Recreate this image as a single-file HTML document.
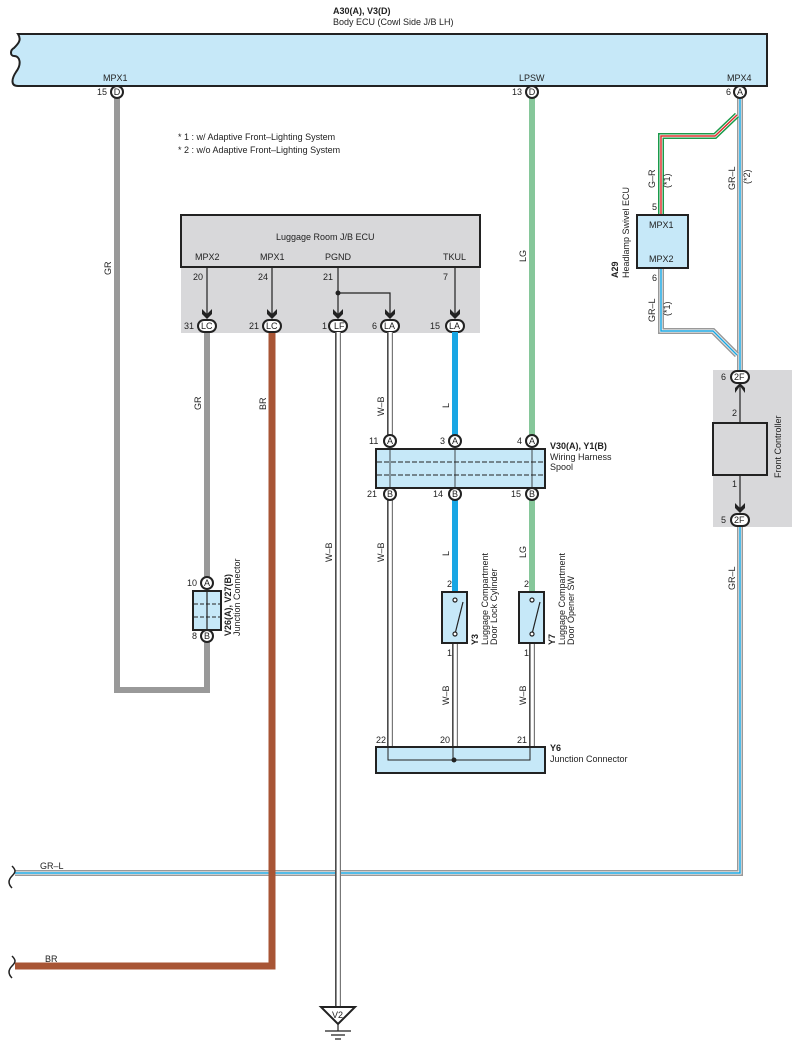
<!DOCTYPE html>
<html><head><meta charset="utf-8"><style>
body{margin:0;background:#fff}
svg{display:block;font-family:"Liberation Sans",sans-serif}
text{font-size:9px;fill:#222}
</style></head><body>
<svg width="801" height="1060" viewBox="0 0 801 1060" xmlns="http://www.w3.org/2000/svg">
<defs>
<g id="arr"><path d="M-5,-5 L0,0 L5,-5 L5,0 L0,5 L-5,0Z" fill="#222"/></g>
</defs>
<!-- Body ECU -->
<text x="333" y="14" font-weight="bold">A30(A), V3(D)</text>
<text x="333" y="25">Body ECU (Cowl Side J/B LH)</text>
<path d="M18,34 L767,34 L767,86 L18,86 C10,86 12,78 16,72 C22,64 20,56 14,56 C10,56 10,50 14,48 C18,44 22,40 18,34Z" fill="#c6e8f8" stroke="#222" stroke-width="2"/>
<text x="103" y="81">MPX1</text>
<text x="519" y="81">LPSW</text>
<text x="727" y="81">MPX4</text>

<!-- notes -->
<text x="178" y="140" font-size="8.5">* 1 : w/ Adaptive Front–Lighting System</text>
<text x="178" y="153" font-size="8.5">* 2 : w/o Adaptive Front–Lighting System</text>

<!-- GR wire -->
<path d="M117,98 L117,690 L207,690 L207,642" fill="none" stroke="#999" stroke-width="6"/>
<path d="M207,577 L207,332" fill="none" stroke="#999" stroke-width="6"/>
<!-- LG wire -->
<path d="M532,98 L532,435" stroke="#86c79a" stroke-width="6"/>
<path d="M532,500 L532,592" stroke="#86c79a" stroke-width="6"/>
<!-- GR-L main -->
<g fill="none">
<path d="M740,98 L740,371 M740,526 L740,873 L15,873" stroke="#999" stroke-width="6"/>
<path d="M740,98 L740,371 M740,526 L740,873 L15,873" stroke="#fff" stroke-width="3"/>
<path d="M740,98 L740,371 M740,526 L740,873 L15,873" stroke="#1aa5e0" stroke-width="1.5"/>
<!-- G-R branch -->
<path d="M737,115 L715,136 L661,136 L661,214" stroke="#1a9a4a" stroke-width="6"/>
<path d="M737,115 L715,136 L661,136 L661,214" stroke="#fff" stroke-width="3"/>
<path d="M737,115 L715,136 L661,136 L661,214" stroke="#e03030" stroke-width="1.5"/>
<!-- GR-L from A29 -->
<path d="M661,268 L661,331 L713,331 L737,355" stroke="#999" stroke-width="6"/>
<path d="M661,268 L661,331 L713,331 L737,355" stroke="#fff" stroke-width="3"/>
<path d="M661,268 L661,331 L713,331 L737,355" stroke="#1aa5e0" stroke-width="1.5"/>
</g>
<!-- BR -->
<path d="M272,332 L272,966 L15,966" fill="none" stroke="#a85535" stroke-width="7"/>
<!-- body connectors -->
<g stroke="#222" stroke-width="2" fill="#fff">
<circle cx="117" cy="92" r="6"/><circle cx="532" cy="92" r="6"/><circle cx="740" cy="92" r="6"/>
</g>
<g text-anchor="middle" font-size="8"><text x="117" y="95" font-size="8">D</text><text x="532" y="95" font-size="8">D</text><text x="740" y="95" font-size="8">A</text></g>
<text x="97" y="95">15</text><text x="512" y="95">13</text><text x="726" y="95">6</text>

<!-- A29 -->
<rect x="637" y="215" width="51" height="53" fill="#c6e8f8" stroke="#222" stroke-width="2"/>
<text x="649" y="228">MPX1</text><text x="649" y="262">MPX2</text>
<text x="652" y="210">5</text><text x="652" y="281">6</text>
<text transform="translate(618,278) rotate(-90)" font-weight="bold">A29</text>
<text transform="translate(629,278) rotate(-90)">Headlamp Swivel ECU</text>
<text transform="translate(655,188) rotate(-90)">G–R</text>
<text transform="translate(670,188) rotate(-90)">(*1)</text>
<text transform="translate(735,190) rotate(-90)">GR–L</text>
<text transform="translate(750,184) rotate(-90)">(*2)</text>
<text transform="translate(655,322) rotate(-90)">GR–L</text>
<text transform="translate(670,316) rotate(-90)">(*1)</text>

<!-- Front controller -->
<rect x="713" y="370" width="79" height="157" fill="#d8d8da"/>
<rect x="713" y="423" width="54" height="52" fill="#d8d8da" stroke="#222" stroke-width="2"/>
<path d="M740,383 L740,423 M740,475 L740,512" stroke="#222" stroke-width="1.2"/>
<path d="M735,393 L740,386 L745,393 L745,388 L740,383 L735,388Z" fill="#222"/>
<use href="#arr" x="740" y="508"/>
<g stroke="#222" stroke-width="2" fill="#fff"><rect x="731" y="371" width="18" height="12" rx="6"/><rect x="731" y="514" width="18" height="12" rx="6"/></g>
<text x="734" y="380">2F</text><text x="734" y="523">2F</text>
<text x="721" y="380">6</text><text x="721" y="523">5</text>
<text x="732" y="416">2</text><text x="732" y="487">1</text>
<text transform="translate(781,478) rotate(-90)">Front Controller</text>

<!-- Luggage ECU -->
<rect x="181" y="267" width="299" height="66" fill="#d8d8da"/>
<rect x="181" y="215" width="299" height="52" fill="#d8d8da" stroke="#222" stroke-width="2"/>
<text x="276" y="240">Luggage Room J/B ECU</text>
<text x="195" y="260">MPX2</text><text x="260" y="260">MPX1</text><text x="325" y="260">PGND</text><text x="443" y="260">TKUL</text>
<text x="193" y="280">20</text><text x="258" y="280">24</text><text x="323" y="280">21</text><text x="443" y="280">7</text>
<g stroke="#222" stroke-width="1.2" fill="none">
<path d="M207,267 L207,315 M272,267 L272,315 M338,267 L338,315 M455,267 L455,315 M338,293 L390,293 L390,315"/>
</g>
<circle cx="338" cy="293" r="2.5" fill="#222"/>
<use href="#arr" x="207" y="314"/><use href="#arr" x="272" y="314"/><use href="#arr" x="338" y="314"/><use href="#arr" x="390" y="314"/><use href="#arr" x="455" y="314"/>
<g stroke="#222" stroke-width="2" fill="#fff">
<rect x="198" y="320" width="18" height="12" rx="6"/><rect x="263" y="320" width="18" height="12" rx="6"/><rect x="329" y="320" width="18" height="12" rx="6"/><rect x="381" y="320" width="18" height="12" rx="6"/><rect x="446" y="320" width="18" height="12" rx="6"/>
</g>
<text x="201" y="329">LC</text><text x="266" y="329">LC</text><text x="334" y="329">LF</text><text x="384" y="329">LA</text><text x="449" y="329">LA</text>
<text x="184" y="329">31</text><text x="249" y="329">21</text><text x="322" y="329">1</text><text x="372" y="329">6</text><text x="430" y="329">15</text>

<!-- W-B double lines -->
<g fill="none">
<path d="M338,332 L338,1008 M390,332 L390,435 M390,500 L390,748 M455,643 L455,748 M532,643 L532,748" stroke="#777" stroke-width="6"/>
<path d="M338,332 L338,1008 M390,332 L390,435 M390,500 L390,748 M455,643 L455,748 M532,643 L532,748" stroke="#fff" stroke-width="3.6"/>
<path d="M336,332 L336,1008 M388,332 L388,435 M388,500 L388,748 M453,643 L453,748 M530,643 L530,748" stroke="#222" stroke-width="1"/>
</g>
<!-- L blue -->
<path d="M455,332 L455,435 M455,500 L455,592" stroke="#18a6e4" stroke-width="6"/>

<!-- spool -->
<rect x="376" y="449" width="169" height="39" fill="#c6e8f8" stroke="#222" stroke-width="2"/>
<path d="M377,462 L544,462 M377,475 L544,475" stroke="#222" stroke-width="1" stroke-dasharray="5,2"/>
<path d="M390,449 L390,488 M455,449 L455,488 M532,449 L532,488" stroke="#222" stroke-width="0.8"/>
<g stroke="#222" stroke-width="2" fill="#fff">
<circle cx="390" cy="441" r="6"/><circle cx="455" cy="441" r="6"/><circle cx="532" cy="441" r="6"/>
<circle cx="390" cy="494" r="6"/><circle cx="455" cy="494" r="6"/><circle cx="532" cy="494" r="6"/>
</g>
<g text-anchor="middle" font-size="8"><text x="390" y="444">A</text><text x="455" y="444">A</text><text x="532" y="444">A</text><text x="390" y="497">B</text><text x="455" y="497">B</text><text x="532" y="497">B</text></g>
<text x="369" y="444">11</text><text x="440" y="444">3</text><text x="517" y="444">4</text>
<text x="367" y="497">21</text><text x="433" y="497">14</text><text x="511" y="497">15</text>
<text x="550" y="449" font-weight="bold">V30(A), Y1(B)</text>
<text x="550" y="460">Wiring Harness</text><text x="550" y="470">Spool</text>

<!-- switches -->
<g stroke="#222" stroke-width="2" fill="#c6e8f8"><rect x="442" y="592" width="25" height="51"/><rect x="519" y="592" width="25" height="51"/></g>
<g stroke="#222" stroke-width="1.2" fill="#fff">
<path d="M455,634 L463,602 M532,634 L540,602" fill="none"/>
<circle cx="455" cy="600" r="2"/><circle cx="455" cy="634" r="2"/><circle cx="532" cy="600" r="2"/><circle cx="532" cy="634" r="2"/>
</g>
<text x="447" y="587">2</text><text x="524" y="587">2</text><text x="447" y="656">1</text><text x="524" y="656">1</text>
<text transform="translate(478,645) rotate(-90)" font-weight="bold">Y3</text>
<text transform="translate(488,645) rotate(-90)">Luggage Compartment</text>
<text transform="translate(497,645) rotate(-90)">Door Lock Cylinder</text>
<text transform="translate(555,645) rotate(-90)" font-weight="bold">Y7</text>
<text transform="translate(565,645) rotate(-90)">Luggage Compartment</text>
<text transform="translate(574,645) rotate(-90)">Door Opener SW</text>

<!-- V26 -->
<rect x="193" y="591" width="28" height="39" fill="#c6e8f8" stroke="#222" stroke-width="2"/>
<path d="M207,591 L207,630" stroke="#222" stroke-width="1.2"/>
<path d="M194,604 L220,604 M194,617 L220,617" stroke="#222" stroke-width="1" stroke-dasharray="4,2"/>
<g stroke="#222" stroke-width="2" fill="#fff"><circle cx="207" cy="583" r="6"/><circle cx="207" cy="636" r="6"/></g>
<text x="204" y="586" font-size="8">A</text><text x="204" y="639" font-size="8">B</text>
<text x="187" y="586">10</text><text x="192" y="639">8</text>
<text transform="translate(231,636) rotate(-90)" font-weight="bold">V26(A), V27(B)</text>
<text transform="translate(240,636) rotate(-90)">Junction Connector</text>

<!-- Y6 -->
<rect x="376" y="747" width="169" height="26" fill="#c6e8f8" stroke="#222" stroke-width="2"/>
<path d="M388,747 L388,760 L530,760 L530,747 M453,747 L453,760" fill="none" stroke="#222" stroke-width="1"/>
<circle cx="454" cy="760" r="2.5" fill="#222"/>
<text x="376" y="743">22</text><text x="440" y="743">20</text><text x="517" y="743">21</text>
<text x="550" y="751" font-weight="bold">Y6</text><text x="550" y="762">Junction Connector</text>

<!-- ground -->
<path d="M321,1007 L355,1007 L338,1024Z" fill="#fff" stroke="#222" stroke-width="2"/>
<text x="332" y="1018" font-size="8">V2</text>
<path d="M338,1024 L338,1031 M325,1031 L351,1031 M331,1035 L345,1035 M335,1039 L341,1039" stroke="#222" stroke-width="1.2"/>

<!-- break marks -->
<path d="M12,866 C16,870 16,872 12,876 C8,880 8,884 12,888 M12,956 C16,960 16,962 12,966 C8,970 8,974 12,978" fill="none" stroke="#222" stroke-width="1.5"/>
<text x="40" y="869">GR–L</text><text x="45" y="962">BR</text>

<!-- wire labels -->
<text transform="translate(111,275) rotate(-90)">GR</text>
<text transform="translate(526,262) rotate(-90)">LG</text>
<text transform="translate(201,410) rotate(-90)">GR</text>
<text transform="translate(266,410) rotate(-90)">BR</text>
<text transform="translate(384,416) rotate(-90)">W–B</text>
<text transform="translate(449,408) rotate(-90)">L</text>
<text transform="translate(332,562) rotate(-90)">W–B</text>
<text transform="translate(384,562) rotate(-90)">W–B</text>
<text transform="translate(449,556) rotate(-90)">L</text>
<text transform="translate(526,558) rotate(-90)">LG</text>
<text transform="translate(449,705) rotate(-90)">W–B</text>
<text transform="translate(526,705) rotate(-90)">W–B</text>
<text transform="translate(735,590) rotate(-90)">GR–L</text>
</svg>
</body></html>
